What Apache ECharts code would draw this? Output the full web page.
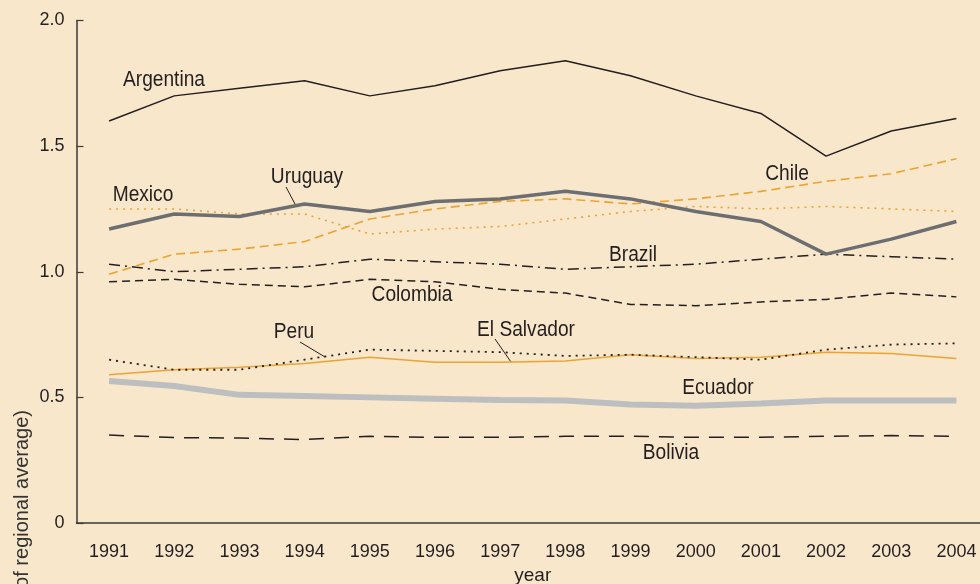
<!DOCTYPE html>
<html>
<head>
<meta charset="utf-8">
<script src="https://cdn.jsdelivr.net/npm/echarts@6/dist/echarts.min.js"></script>
<style>
  html, body { margin: 0; padding: 0; background: #f8e7ca; }
  #chart { width: 980px; height: 584px; }
</style>
</head>
<body>
<div id="chart"></div>
<script>
const years = ['1991', '1992', '1993', '1994', '1995', '1996', '1997', '1998', '1999', '2000', '2001', '2002', '2003', '2004']
const yTicks = [0, 0.5, 1.0, 1.5, 2.0]

const argentina = [1.60, 1.70, 1.73, 1.76, 1.70, 1.74, 1.80, 1.84, 1.78, 1.70, 1.63, 1.46, 1.56, 1.61]
const chile = [0.99, 1.07, 1.09, 1.12, 1.21, 1.25, 1.28, 1.29, 1.27, 1.29, 1.32, 1.36, 1.39, 1.45]
const mexico = [1.25, 1.25, 1.23, 1.23, 1.15, 1.17, 1.18, 1.21, 1.24, 1.26, 1.25, 1.26, 1.25, 1.24]
const uruguay = [1.17, 1.23, 1.22, 1.27, 1.24, 1.28, 1.29, 1.32, 1.29, 1.24, 1.20, 1.07, 1.13, 1.20]
const brazil = [1.03, 1.00, 1.01, 1.02, 1.05, 1.04, 1.03, 1.01, 1.02, 1.03, 1.05, 1.07, 1.06, 1.05]
const colombia = [0.96, 0.97, 0.95, 0.94, 0.97, 0.96, 0.93, 0.915, 0.87, 0.865, 0.88, 0.89, 0.915, 0.90]
const peru = [0.65, 0.61, 0.61, 0.65, 0.69, 0.685, 0.68, 0.665, 0.67, 0.66, 0.65, 0.69, 0.71, 0.715]
const elSalvador = [0.59, 0.61, 0.62, 0.635, 0.66, 0.64, 0.64, 0.645, 0.67, 0.655, 0.66, 0.68, 0.675, 0.655]
const ecuador = [0.565, 0.545, 0.51, 0.505, 0.50, 0.495, 0.49, 0.488, 0.472, 0.467, 0.476, 0.488, 0.488, 0.488]
const bolivia = [0.35, 0.34, 0.338, 0.332, 0.345, 0.341, 0.341, 0.345, 0.345, 0.341, 0.341, 0.345, 0.348, 0.345]

const ink = '#231f20'
const orange = '#eaa435'
const sans = "'Liberation Sans', Arial, sans-serif"

function line(name, data, color, width, type) {
  return {
    name: name,
    type: 'line',
    data: data,
    symbol: 'none',
    lineStyle: { color: color, width: width, type: type },
    silent: true
  }
}

// label text, centre x/y in pixels
const labels = [
  ['Argentina', 164, 80],
  ['Uruguay', 307, 177],
  ['Mexico', 143, 195],
  ['Chile', 787, 174],
  ['Brazil', 633, 255],
  ['Colombia', 412, 295],
  ['Peru', 294, 332],
  ['El Salvador', 526, 330],
  ['Ecuador', 718, 388],
  ['Bolivia', 671, 453]
]
const leaders = [
  [286, 187, 295, 204],
  [300, 342, 325, 357],
  [495, 339, 511, 362]
]

// condensed look: plain sans squeezed horizontally
const graphic = labels.map(l => ({
  type: 'text',
  x: l[1], y: l[2],
  scaleX: 0.87,
  style: { text: l[0], font: '22px ' + sans, fill: ink, textAlign: 'center', textVerticalAlign: 'middle' }
})).concat(leaders.map(s => ({
  type: 'line',
  shape: { x1: s[0], y1: s[1], x2: s[2], y2: s[3] },
  style: { stroke: ink, lineWidth: 1 }
}))).concat([{
  type: 'text',
  x: 22, y: 410,
  rotation: Math.PI / 2,
  style: { text: '(of regional average)', font: '20px ' + sans, fill: '#333', textAlign: 'right', textVerticalAlign: 'middle' }
}])

const option = {
  backgroundColor: '#f8e7ca',
  animation: false,
  grid: { left: 76.5, right: -9, top: 20.5, bottom: 61, outerBoundsMode: 'none' },
  xAxis: {
    type: 'category',
    data: years,
    boundaryGap: true,
    name: 'year',
    nameLocation: 'middle',
    nameGap: 42,
    nameTextStyle: { fontFamily: sans, fontSize: 19, color: ink },
    axisLine: { lineStyle: { color: '#3a3a3a', width: 1.5 } },
    axisTick: { inside: true, length: 10, lineStyle: { color: '#3a3a3a', width: 1.2 } },
    axisLabel: { interval: 0, margin: 20, fontFamily: sans, fontSize: 18, color: ink },
    splitLine: { show: false }
  },
  yAxis: {
    type: 'value',
    min: yTicks[0],
    max: yTicks[yTicks.length - 1],
    interval: 0.5,
    axisLine: { show: true, lineStyle: { color: '#3a3a3a', width: 1.5 } },
    axisTick: { show: true, inside: true, length: 7, lineStyle: { color: '#3a3a3a', width: 1.2 } },
    axisLabel: {
      margin: 12, fontFamily: sans, fontSize: 18, color: ink,
      formatter: v => (v === 0 ? '0' : v.toFixed(1))
    },
    splitLine: { show: false }
  },
  graphic: graphic,
  series: [
    line('Bolivia', bolivia, ink, 1.5, [15, 10]),
    line('Ecuador', ecuador, '#bcbec0', 6, 'solid'),
    line('El Salvador', elSalvador, orange, 1.5, 'solid'),
    line('Peru', peru, ink, 1.8, [2, 5]),
    line('Colombia', colombia, ink, 1.5, [8, 5]),
    line('Brazil', brazil, ink, 1.5, [11, 5, 2, 5]),
    line('Mexico', mexico, orange, 1.6, [2, 5]),
    line('Chile', chile, orange, 1.6, [9, 5]),
    line('Uruguay', uruguay, '#6d6e71', 3.5, 'solid'),
    line('Argentina', argentina, ink, 1.5, 'solid')
  ]
}

const chart = echarts.init(document.getElementById('chart'))
chart.setOption(option)
window.addEventListener('resize', () => {
  chart.resize()
})
</script>
</body>
</html>
